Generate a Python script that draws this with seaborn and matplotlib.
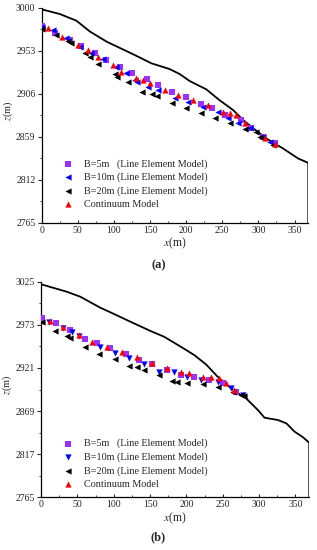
import numpy as np
import pandas as pd
import matplotlib
matplotlib.use("Agg")
import matplotlib.pyplot as plt
import seaborn as sns

sns.set_theme(style="white")
plt.rcParams['font.family'] = ['Liberation Serif', 'DejaVu Serif']
plt.rcParams['mathtext.fontset'] = 'stix'

# ---------------- Panel (a) data ----------------
a_terrain_x = [0, 25, 48, 67, 90, 127, 152, 177, 191, 205, 228, 246, 265, 279, 293, 311, 334, 355, 369, 369]
a_terrain_z = [2998.5, 2993.4, 2986.1, 2974.1, 2963.1, 2949.2, 2939.4, 2933.2, 2927.7, 2920.0, 2910.9,
               2899.2, 2888.3, 2877.3, 2868.2, 2857.2, 2846.3, 2835.3, 2830.5, 2765]

a_b5_x = [0, 18, 38.7, 54.7, 73.3, 89.3, 107.8, 125.2, 145.1, 161.2, 179.7, 200.4, 220.2, 235.8, 253.4, 276.5, 290.3, 306.3, 322.5]
a_b5_z = [2980.6, 2972.9, 2964.9, 2958.4, 2950.4, 2943.0, 2935.7, 2929.1, 2921.9, 2915.6, 2908.3, 2902.8,
          2894.8, 2890.1, 2882.8, 2877.3, 2868.2, 2859.0, 2851.8]

a_b10_x = [0, 15.6, 34, 52.5, 68.6, 84.7, 103.1, 117, 128.6, 131.3, 147.4, 161.2, 184.3, 202.7, 223.4, 244.1, 258, 271.8, 288, 306.3, 315.6]
a_b10_z = [2979.0, 2975.9, 2966.8, 2957.6, 2951.0, 2943.8, 2935.7, 2929.1, 2921.1, 2919.3, 2913.8, 2910.2,
           2901.1, 2897.4, 2891.9, 2886.4, 2879.2, 2873.7, 2868.2, 2859.0, 2853.5]

a_b20_x = [0, 20.2, 36.4, 40.9, 59.4, 66.4, 77.8, 100.9, 104.1, 119.3, 138.2, 152.1, 159, 179.7, 200.4, 221.2,
           239.6, 260.3, 281, 297.2, 301.8, 320.2]
a_b20_z = [2976.7, 2970.4, 2964.2, 2962.0, 2950.4, 2946.6, 2938.3, 2927.4, 2924.7, 2919.3, 2908.3, 2905.8,
           2903.6, 2895.6, 2890.1, 2885.3, 2879.2, 2873.7, 2867.1, 2864.5, 2859.0, 2849.9]

a_cont_x = [8.7, 28.1, 50.2, 64, 77.8, 98.6, 110, 130, 140.4, 149.7, 170.4, 188.8, 209.6, 230.3, 251, 260.3, 269.6, 281, 308.7, 322.5]
a_cont_z = [2977.8, 2968.6, 2959.5, 2954.0, 2946.6, 2937.6, 2930.2, 2923.6, 2921.1, 2917.5, 2910.2, 2904.7,
            2899.2, 2893.7, 2886.4, 2884.6, 2882.8, 2873.7, 2857.3, 2851.0]

a_yticks = [2765, 2812, 2859, 2906, 2953, 3000]

# ---------------- Panel (b) data ----------------
b_terrain_x = [0, 35.5, 54, 81.6, 95.4, 123.1, 150.8, 169.2, 192.3, 210.7, 226.9, 243, 261.4, 282.2, 298.4,
               307.5, 326, 337.5, 349, 360.6, 369, 369]
b_terrain_z = [3021.9, 3012.9, 3006.9, 2993.6, 2988.1, 2976.7, 2965.5, 2958.7, 2946.6, 2936.6, 2925.4, 2910.4,
               2896.4, 2884.3, 2870.2, 2861.0, 2858.2, 2854.2, 2844.1, 2837.3, 2830.8, 2765]

b_b5_x = [1, 20.7, 40.1, 60.9, 77, 95.4, 116.2, 134.6, 153.1, 173.9, 192.3, 210.7, 231.4, 250, 268.3]
b_b5_z = [2981.6, 2974.8, 2966.7, 2955.5, 2950.7, 2944.7, 2937.4, 2930.5, 2925.4, 2918.5, 2912.5, 2910.4,
          2906.4, 2902.4, 2891.6]

b_b10_x = [11.5, 30.8, 42.5, 51.6, 81.6, 102.4, 120.8, 141.5, 162.3, 183, 201.5, 219.9, 243, 261.4, 277.6]
b_b10_z = [2976.7, 2969.5, 2964.7, 2959.5, 2946.6, 2938.6, 2932.6, 2925.4, 2916.4, 2915.7, 2910.4, 2906.4,
           2903.6, 2897.1, 2888.3]

b_b20_x = [1, 19.4, 35.5, 40.1, 60.9, 79.3, 102.4, 120.8, 132.4, 141.5, 162.3, 180.8, 186.8, 201.5, 222.3,
           243, 263.8, 275.3, 279.8]
b_b20_z = [2976.7, 2965.5, 2959.5, 2957.4, 2946.6, 2937.8, 2931.8, 2923.3, 2921.7, 2918.5, 2912.5, 2905.2,
           2904.4, 2902.4, 2901.2, 2898.3, 2891.6, 2888.3, 2887.5]

b_cont_x = [12.4, 30.8, 51.6, 70.1, 90.9, 111.6, 132.4, 153.1, 173.9, 192.3, 203.8, 222.3, 233.8, 245.3, 254.5, 266]
b_cont_z = [2977.6, 2970.7, 2960.7, 2952.6, 2946.6, 2939.8, 2934.5, 2926.6, 2921.3, 2916.4, 2914.5, 2910.4,
            2910.4, 2908.5, 2902.4, 2894.4]

b_yticks = [2765, 2817, 2869, 2921, 2973, 3025]

x_ticks = [0, 50, 100, 150, 200, 250, 300, 350]

labels = ["B=5m   (Line Element Model)", "B=10m (Line Element Model)",
          "B=20m (Line Element Model)", "Continuum Model"]
PURPLE = "#9b30ff"
BLUE = "#0000ff"
BLACK = "#000000"
RED = "#ff0000"

fig = plt.figure(figsize=(3.17, 5.50), dpi=100)
ax1 = fig.add_axes([0.1315, 0.595, 0.841, 0.3905])
ax2 = fig.add_axes([0.1295, 0.0958, 0.846, 0.392])


def draw(ax, tx, tz, s5, s10, s20, sc, yticks, b10_marker, leg_y):
    sns.lineplot(x=tx, y=tz, ax=ax, color="black", lw=1.3, sort=False, estimator=None, legend=False)
    ms = 20
    sns.scatterplot(x=s5[0], y=s5[1], ax=ax, marker="s", color=PURPLE, s=ms, linewidth=0, label=labels[0], zorder=3)
    sns.scatterplot(x=s10[0], y=s10[1], ax=ax, marker=b10_marker, color=BLUE, s=ms, linewidth=0, label=labels[1], zorder=3)
    sns.scatterplot(x=s20[0], y=s20[1], ax=ax, marker="<", color=BLACK, s=ms, linewidth=0, label=labels[2], zorder=3)
    sns.scatterplot(x=sc[0], y=sc[1], ax=ax, marker="^", color=RED, s=ms, linewidth=0, label=labels[3], zorder=3)
    ax.set_xlim(0, 369)
    ax.set_ylim(yticks[0], yticks[-1])
    ax.set_yticks(yticks)
    ax.set_xticks(x_ticks)
    ax.set_xticks([25, 75, 125, 175, 225, 275, 325], minor=True)
    step = yticks[1] - yticks[0]
    ax.set_yticks([t + step / 2 for t in yticks[:-1]], minor=True)
    for sp in ["top", "right"]:
        ax.spines[sp].set_visible(False)
    for sp in ["left", "bottom"]:
        ax.spines[sp].set_color("black")
        ax.spines[sp].set_linewidth(0.9)
    ax.tick_params(axis="y", which="major", direction="out", length=3, width=0.8, labelsize=7, pad=1.5, left=True)
    ax.tick_params(axis="y", which="minor", direction="out", length=1.8, width=0.6, left=True)
    ax.tick_params(axis="x", which="major", direction="in", length=2.5, width=0.8, labelsize=7, pad=2, bottom=True)
    ax.tick_params(axis="x", which="minor", direction="in", length=1.5, width=0.6, bottom=True)
    ax.set_xlabel(r"$\mathit{x}$(m)", fontsize=8.5, labelpad=1)
    ax.set_ylabel(r"$\mathit{z}$(m)", fontsize=7.5)
    ax.yaxis.set_label_coords(-0.1, 0.52)
    ax.grid(False)
    ax.legend(loc="lower left", bbox_to_anchor=(0.065, leg_y), frameon=False, fontsize=7.3,
              handletextpad=1.1, labelspacing=0.4, borderaxespad=0, handlelength=1.0, markerscale=1.0)


draw(ax1, a_terrain_x, a_terrain_z, (a_b5_x, a_b5_z), (a_b10_x, a_b10_z), (a_b20_x, a_b20_z),
     (a_cont_x, a_cont_z), a_yticks, "<", 0.045)
draw(ax2, b_terrain_x, b_terrain_z, (b_b5_x, b_b5_z), (b_b10_x, b_b10_z), (b_b20_x, b_b20_z),
     (b_cont_x, b_cont_z), b_yticks, "v", 0.02)

fig.text(0.5, 0.518, "(a)", ha="center", va="center", fontsize=9, fontweight="bold")
fig.text(0.5, 0.023, "(b)", ha="center", va="center", fontsize=9, fontweight="bold")

fig.savefig("out.png", dpi=100, facecolor="white")
